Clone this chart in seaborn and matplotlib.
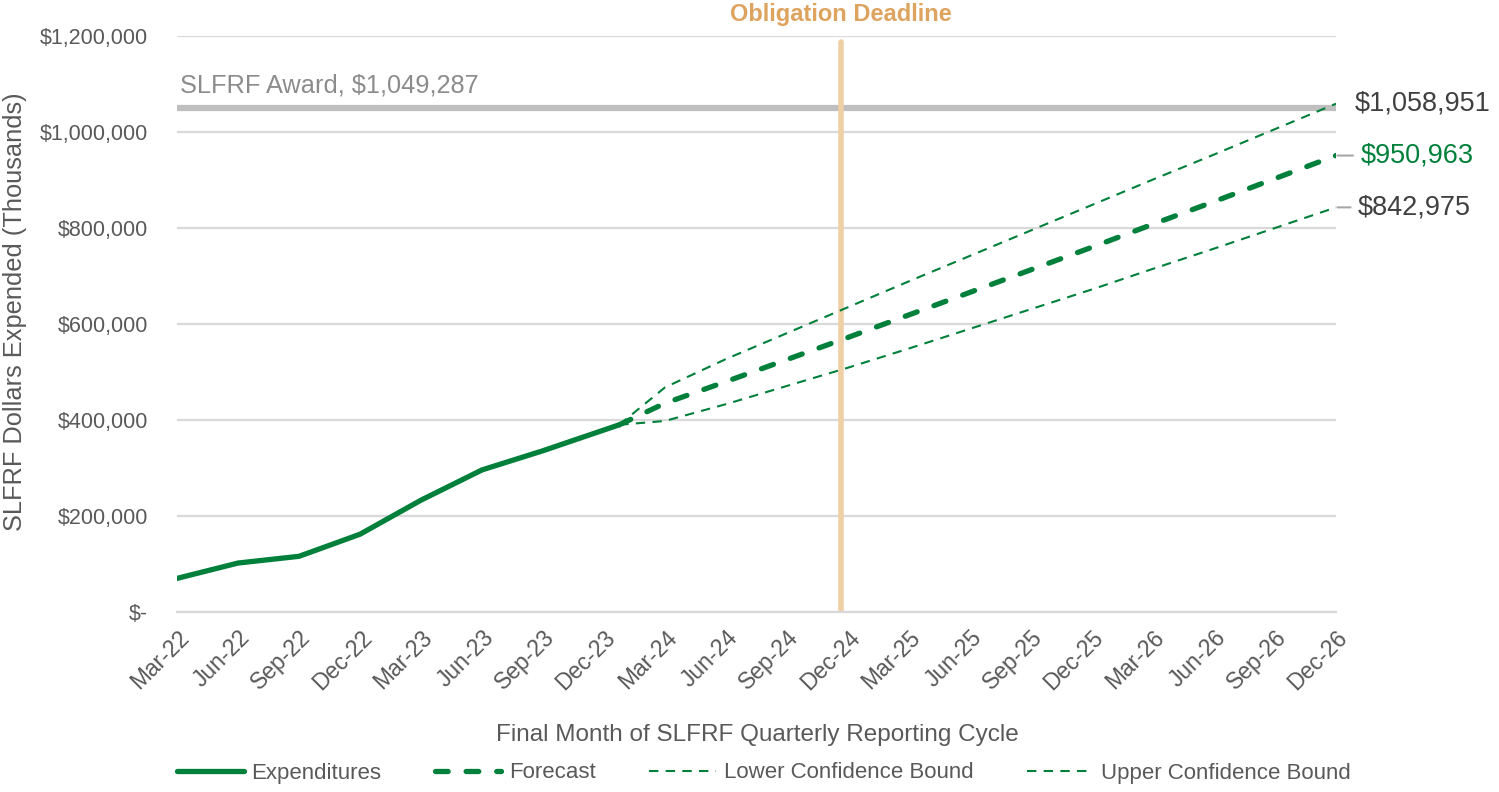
import numpy as np
import pandas as pd
import matplotlib
matplotlib.use('Agg')
import matplotlib.pyplot as plt
from matplotlib.ticker import FuncFormatter
from matplotlib.transforms import blended_transform_factory
import seaborn as sns

## data
quarters = ['Mar-22', 'Jun-22', 'Sep-22', 'Dec-22', 'Mar-23', 'Jun-23', 'Sep-23', 'Dec-23',
            'Mar-24', 'Jun-24', 'Sep-24', 'Dec-24', 'Mar-25', 'Jun-25', 'Sep-25', 'Dec-25',
            'Mar-26', 'Jun-26', 'Sep-26', 'Dec-26']

# position on the quarter axis (last actual point lands a little after Dec-23)
exp_pos = [0, 1, 2, 3, 4, 5, 6, 7.25]
expenditures = [70000, 102000, 116000, 162000, 233000, 296000, 336000, 390000]

fc_pos = [7.25, 8, 9, 10, 11, 12, 13, 14, 15, 16, 17, 18, 19]
forecast = [390000, 435000, 480000, 526000, 572000, 619000, 666000, 713000, 760000,
            808000, 855000, 903000, 950963]
upper = [390000, 468000, 527000, 581000, 635000, 689000, 742000, 795000, 848000,
         901000, 953000, 1006000, 1058951]
lower = [390000, 398000, 433000, 471000, 509000, 549000, 590000, 631000, 672000,
         715000, 757000, 800000, 842975]

award = 1049287
deadline_pos = 10.885

green = '#00803A'
grey_txt = '#595959'

sns.set_style('white')
plt.rcParams['font.family'] = ['Liberation Sans', 'DejaVu Sans']

fig = plt.figure(figsize=(14.99, 7.92), dpi=100)
ax = fig.add_axes([177/1499, 1-612/792, (1336-177)/1499, (612-36)/792])

# grid
for v in range(0, 1200001, 200000):
    ax.axhline(v, color='#d9d9d9', lw=1.6, zorder=0)

# award line + deadline
ax.axhline(award, color='#bfbfbf', lw=4.5, zorder=1, solid_capstyle='round')
ax.axvline(deadline_pos, ymin=0, ymax=(612-42)/576, color='#EFCFA5', lw=4, zorder=1)

exp_df = pd.DataFrame({'pos': exp_pos, 'val': expenditures})
fc_df = pd.DataFrame({'pos': fc_pos, 'forecast': forecast, 'upper': upper, 'lower': lower})

sns.lineplot(data=exp_df, x='pos', y='val', ax=ax, color=green, lw=3.8,
             label='Expenditures', zorder=3)
sns.lineplot(data=fc_df, x='pos', y='forecast', ax=ax, color=green, lw=3.8,
             linestyle=(0, (2.4, 3.4)), dash_capstyle='round', label='Forecast', zorder=3)
sns.lineplot(data=fc_df, x='pos', y='lower', ax=ax, color=green, lw=1.5,
             linestyle=(0, (4.5, 3.5)), label='Lower Confidence Bound', zorder=3)
sns.lineplot(data=fc_df, x='pos', y='upper', ax=ax, color=green, lw=1.5,
             linestyle=(0, (4.5, 3.5)), label='Upper Confidence Bound', zorder=3)

ax.set_xlim(0, 19)
ax.set_ylim(0, 1200000)
ax.set_xlabel('')
ax.set_ylabel('')

ax.set_xticks(range(len(quarters)))
ax.set_xticklabels(quarters, rotation=45, ha='right', rotation_mode='anchor',
                   fontsize=16.5, color=grey_txt)
ax.set_yticks(range(0, 1200001, 200000))
ax.yaxis.set_major_formatter(FuncFormatter(lambda v, p: '$-' if v == 0 else f'${v:,.0f}'))
ax.tick_params(axis='y', length=0, pad=21, labelsize=15.5, labelcolor=grey_txt)
ax.tick_params(axis='x', length=6, width=1.6, color='#d9d9d9', pad=4)

for s in ['top', 'right', 'left']:
    ax.spines[s].set_visible(False)
ax.spines['bottom'].set_color('#d9d9d9')
ax.spines['bottom'].set_linewidth(1.6)

# annotations
ax.text(0.05, award + 48000, 'SLFRF Award, $1,049,287', fontsize=18.3, color='#8c8c8c',
        ha='left', va='center')
trans = blended_transform_factory(ax.transData, fig.transFigure)
ax.text(deadline_pos, 1-14/792, 'Obligation Deadline', transform=trans, ha='center',
        va='center', fontsize=17, fontweight='bold', color='#DDA35F')

ax.annotate('$1,058,951', xy=(19, upper[-1]), xytext=(19.3, upper[-1]), fontsize=19.5,
            color='#404040', va='center', ha='left', annotation_clip=False)
ax.annotate('$950,963', xy=(19, forecast[-1]), xytext=(19.4, forecast[-1]), fontsize=19.5,
            color=green, va='center', ha='left', annotation_clip=False,
            arrowprops=dict(arrowstyle='-', color='#a6a6a6', lw=1.5, shrinkA=3, shrinkB=1))
ax.annotate('$842,975', xy=(19, lower[-1]), xytext=(19.36, lower[-1]), fontsize=19.5,
            color='#404040', va='center', ha='left', annotation_clip=False,
            arrowprops=dict(arrowstyle='-', color='#a6a6a6', lw=1.5, shrinkA=3, shrinkB=1))

fig.text(15/1499, 1-312/792, 'SLFRF Dollars Expended (Thousands)', rotation=90,
         ha='center', va='center', fontsize=18.3, color=grey_txt)
fig.text(757/1499, 1-735/792, 'Final Month of SLFRF Quarterly Reporting Cycle',
         ha='center', va='center', fontsize=17.5, color=grey_txt)

ax.get_legend().remove()
handles, labels = ax.get_legend_handles_labels()
leg = fig.legend(handles, labels, loc='center', bbox_to_anchor=(764/1499, 1-773/792),
                 ncol=4, frameon=False, fontsize=16, handlelength=3.0, handletextpad=0.35,
                 columnspacing=2.4)
for t in leg.get_texts():
    t.set_color(grey_txt)

fig.savefig('out.png', dpi=100)
